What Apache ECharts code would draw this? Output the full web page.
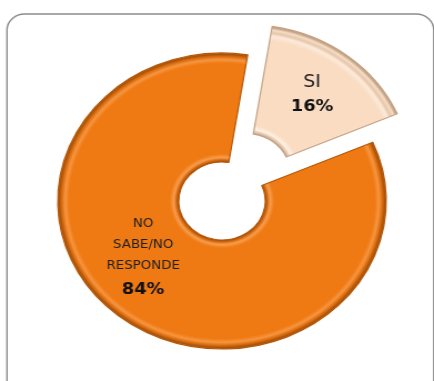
<!DOCTYPE html>
<html>
<head>
<meta charset="utf-8">
<script src="https://cdn.jsdelivr.net/npm/echarts@6/dist/echarts.min.js"></script>
<style>
  html, body { margin: 0; padding: 0; background: #fff; overflow: hidden; width: 434px; height: 381px; }
  /* the doughnut is drawn slightly wider than tall */
  #chart { width: 434px; height: 381px; transform: scaleX(1.11); transform-origin: 222px 0; }
</style>
</head>
<body>
<div id="chart"></div>
<script>
// Survey answers and their shares (%)
const categories = ['SI', 'NO SABE/NO RESPONDE'];
const values = [16, 84];

// layout constants (chart pixels, before the horizontal stretch)
const CX = 222, CY = 201, R_IN = 39, R_OUT = 148;
const START_ANGLE = 81;
const EXPLODE = 36;
const LABEL_POS = [[311, 90], [151, 258]];

const chart = echarts.init(document.getElementById('chart'));

// bevelled look: a radial gradient around the pie centre
// (the gradient travels with a slice when it is pulled out)
function bevel(stops) {
  return {
    type: 'radial', x: CX, y: CY, r: R_OUT, global: true,
    colorStops: stops.map(s => ({ offset: s[0], color: s[1] }))
  };
}

const ri = R_IN / R_OUT;
const peachStops = [
  [ri - 0.005, '#b8977a'], [ri + 0.01, '#dcbda1'], [ri + 0.03, '#fff0e3'],
  [ri + 0.06, '#f9dcc2'], [0.9, '#f9dcc2'], [0.935, '#fdeadb'],
  [0.955, '#e6c7aa'], [0.975, '#f6dcc6'], [0.99, '#c9a88a'], [1, '#b89a7e']
];
const orangeStops = [
  [ri - 0.005, '#8f4404'], [ri + 0.01, '#c9610b'], [ri + 0.03, '#f99c4a'],
  [ri + 0.055, '#ef7a13'], [0.93, '#ef7a13'], [0.955, '#f7953f'],
  [0.975, '#dc6e10'], [0.99, '#a9530a'], [1, '#c0640f']
];
const fills = [bevel(peachStops), bevel(orangeStops)];
const edges = ['#c4a386', '#b5580a'];

const data = categories.map((name, i) => ({
  name: name,
  value: values[i],
  selected: i === 0,
  itemStyle: { color: fills[i], borderColor: edges[i], borderWidth: 1.2 }
}));

chart.setOption({
  backgroundColor: '#ffffff',
  animation: false,
  graphic: [{
    type: 'rect',
    shape: { x: 28.3, y: 14, width: 384.5, height: 400, r: 16 },
    style: { fill: 'none', stroke: '#8c8c8c', lineWidth: 1.4 },
    silent: true
  }],
  series: [{
    type: 'pie',
    center: [CX, CY],
    radius: [R_IN, R_OUT],
    startAngle: START_ANGLE,
    clockwise: true,
    selectedMode: 'single',
    selectedOffset: EXPLODE,
    avoidLabelOverlap: false,
    labelLine: { show: false },
    emphasis: { disabled: true },
    label: {
      show: true,
      position: 'inside',
      align: 'center',
      verticalAlign: 'middle',
      formatter: function (p) {
        const pct = '{p|' + Math.round(p.percent) + '%}';
        if (p.dataIndex === 0) return '{s|' + p.name + '}\n' + pct;
        return p.name.split(' ').map(w => '{n|' + w + '}').join('\n') + '\n' + pct;
      },
      rich: {
        s: { fontFamily: 'DejaVu Sans', fontSize: 17, lineHeight: 22, color: '#1e1e1e' },
        n: { fontFamily: 'DejaVu Sans', fontSize: 12, lineHeight: 21, color: '#1e1e1e' },
        p: { fontFamily: 'DejaVu Sans', fontSize: 16, fontWeight: 'bold', lineHeight: 27, color: '#111' }
      }
    },
    labelLayout: function (params) {
      const pos = LABEL_POS[params.dataIndex];
      return { x: pos[0], y: pos[1], align: 'center', verticalAlign: 'middle' };
    },
    data: data
  }]
});
</script>
</body>
</html>
